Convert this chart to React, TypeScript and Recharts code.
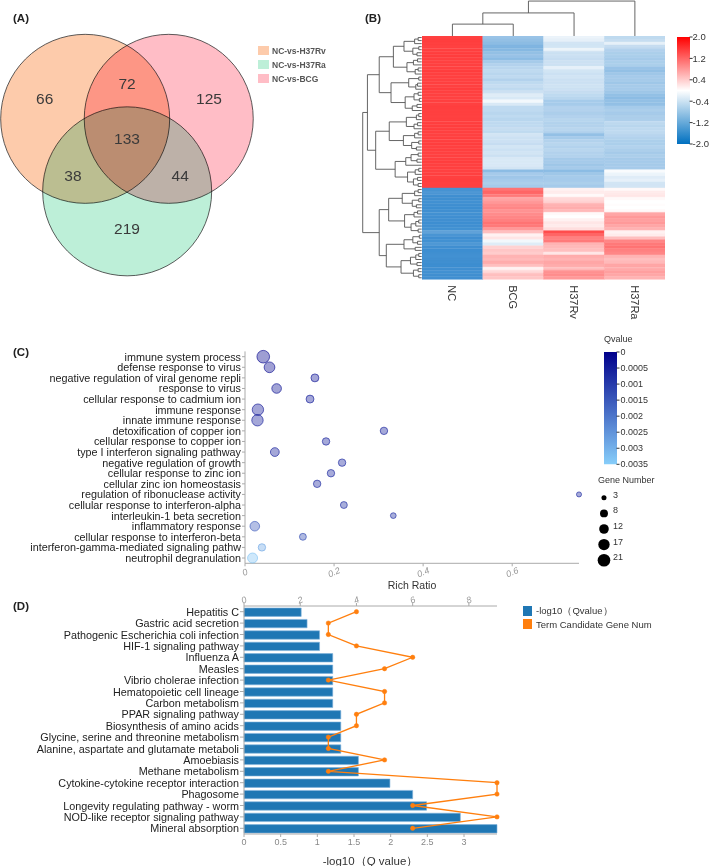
import React from "react";
import {
  Bar,
  BarChart,
  Cell,
  ComposedChart,
  Line,
  Scatter,
  ScatterChart,
  XAxis,
  YAxis,
  ZAxis
} from "recharts";

const FONT = '"Liberation Sans", Arial, Helvetica, sans-serif';

// ---------- (A) Venn ----------
const vennSets = ["NC-vs-H37Rv", "NC-vs-H37Ra", "NC-vs-BCG"];
const vennColors = ["#fdcbab", "#bdefd8", "#ffbdc6"];
const vennCx = [-0.495, 0.002, 0.494];
const vennCy = [0.286, -0.572, 0.286];
const vennCounts = [66, 72, 125, 133, 38, 44, 219];
const vennLabelX = [-0.974, 0, 0.97, 0, -0.64, 0.63, 0];
const vennLabelY = [0.525, 0.7, 0.525, 0.05, -0.39, -0.39, -1.01];

// ---------- (B) heatmap ----------
const heatColumns = ["NC", "BCG", "H37Rv", "H37Ra"];
const ncValues = [
  1.5, 1.51, 1.5, 1.49, 1.5, 1.5, 1.52, 1.5, 1.49, 1.5,
  1.5, 1.51, 1.5, 1.5, 1.49, 1.5, 1.5, 1.51, 1.5, 1.5,
  1.49, 1.5, 1.5, 1.51, 1.5, 1.5, 1.49, 1.5, 1.5, 1.51,
  1.5, 1.5, 1.49, 1.5, 1.5, 1.51, 1.5, 1.5, 1.49, 1.5,
  1.5, 1.51, 1.5, 1.5, 1.49, 1.5, 1.5, 1.51, 1.5, 1.5,
  -1.45, -1.38, -1.5, -1.5, -1.48, -1.5, -1.52, -1.5, -1.48, -1.5,
  -1.5, -1.52, -1.5, -1.48, -1.25, -1.42, -1.5, -1.48, -1.38, -1.5,
  -1.52, -1.5, -1.48, -1.5, -1.5, -1.52, -1.5, -1.48, -1.5, -1.5
];
const bcgValues = [
  -0.8, -0.85, -0.9, -1.0, -0.95, -0.85, -0.8, -0.9, -0.7, -0.6,
  -0.55, -0.5, -0.55, -0.5, -0.6, -0.5, -0.45, -0.5, -0.4, -0.25,
  -0.3, -0.1, -0.3, -0.5, -0.5, -0.55, -0.5, -0.55, -0.5, -0.5,
  -0.45, -0.5, -0.35, -0.4, -0.4, -0.45, -0.35, -0.4, -0.35, -0.4,
  -0.3, -0.3, -0.3, -0.35, -0.9, -0.7, -0.75, -0.7, -0.65, -0.7,
  1.1, 1.2, 1.05, 0.7, 0.8, 0.9, 0.95, 0.85, 0.9, 0.95,
  1.0, 1.1, 1.05, 0.8, 0.5, 0.1, 0.2, -0.1, -0.25, 0.35,
  0.45, 0.4, 0.6, 0.55, 0.65, 0.5, 0.1, 0.3, 0.5, 0.45
];
const h37rvValues = [
  -0.15, -0.2, -0.35, -0.35, -0.15, -0.4, -0.4, -0.45, -0.4, -0.4,
  -0.2, -0.35, -0.4, -0.35, -0.4, -0.4, -0.38, -0.4, -0.45, -0.5,
  -0.55, -0.7, -0.7, -0.6, -0.6, -0.65, -0.6, -0.55, -0.6, -0.6,
  -0.55, -0.6, -0.85, -0.7, -0.6, -0.55, -0.6, -0.55, -0.6, -0.6,
  -0.7, -0.7, -0.75, -0.7, -0.9, -0.75, -0.7, -0.7, -0.65, -0.7,
  0.1, 0.15, 0.05, 0.3, 0.35, 0.6, 0.65, 0.55, 0.05, 0.0,
  0.1, 0.2, 0.15, 0.25, 1.4, 1.2, 1.0, 1.05, 0.6, 0.55,
  0.5, 0.2, 0.65, 0.6, 0.7, 0.65, 0.5, 0.85, 0.9, 0.8
];
const h37raValues = [
  -0.5, -0.45, -0.2, -0.45, -0.6, -0.65, -0.65, -0.7, -0.65, -0.65,
  -0.8, -0.85, -0.75, -0.7, -0.7, -0.75, -0.7, -0.7, -0.75, -0.85,
  -0.9, -0.85, -0.85, -0.7, -0.65, -0.7, -0.65, -0.65, -0.5, -0.55,
  -0.5, -0.5, -0.55, -0.6, -0.65, -0.65, -0.6, -0.65, -0.7, -0.65,
  -0.7, -0.7, -0.7, -0.7, -0.05, -0.15, -0.25, -0.2, -0.35, -0.35,
  0.05, 0.15, 0.2, 0.05, 0.0, 0.02, 0.0, 0.05, 0.7, 0.8,
  0.75, 0.8, 0.7, 0.6, 0.1, 0.15, 0.5, 0.95, 1.05, 1.1,
  1.0, 0.95, 0.6, 0.5, 0.55, 0.7, 0.65, 0.75, 0.7, 0.6
];
const heatScaleTicks = [2, 1.2, 0.4, -0.4, -1.2, -2];

// dendrograms, newick-like: x = leaf, (a,b)h = merge at height h
const rowTreeA1 = "((((x,x)6,x)12,((x,x)5,(x,x)8)15)30,(((x,x)7,x)14,((x,x)6,x)11)25)48";
const rowTreeA2 = "(((x,x)5,((x,x)7,x)10)22,(((x,x)6,(x,x)4)13,((x,x)8,x)16)28)52";
const rowTreeA3 = "((((x,x)5,x)9,((x,x)7,x)13)26,(((x,x)6,x)12,((x,x)5,(x,x)9)17)31)55";
const rowTreeA4 = "((((x,x)6,(x,x)8)18,x)27,(((x,x)5,x)11,((x,x)7,(x,x)6)14)24)45";
const rowTreeB1 = "((((x,x)6,x)12,((x,x)5,(x,x)9)16)33,(((x,x)7,x)13,(((x,x)5,x)10,(x,x)6)18)29)56";
const rowTreeB2 = "((((x,x)4,(x,x)7)15,(x,x)11)30,((((x,x)5,x)10,(x,x)8)19,((x,x)6,(x,x)5)14)35)60";
const rowTree = `(((${rowTreeA1},${rowTreeA2})72,(${rowTreeA3},${rowTreeA4})78)92,(${rowTreeB1},${rowTreeB2})72)100`;
const colTree = "(((x,x)34,x)66,x)100";

// ---------- (C) GO bubble ----------
const goTerms = [
  "immune system process",
  "defense response to virus",
  "negative regulation of viral genome repli",
  "response to virus",
  "cellular response to cadmium ion",
  "immune response",
  "innate immune response",
  "detoxification of copper ion",
  "cellular response to copper ion",
  "type I interferon signaling pathway",
  "negative regulation of growth",
  "cellular response to zinc ion",
  "cellular zinc ion homeostasis",
  "regulation of ribonuclease activity",
  "cellular response to interferon-alpha",
  "interleukin-1 beta secretion",
  "inflammatory response",
  "cellular response to interferon-beta",
  "interferon-gamma-mediated signaling pathw",
  "neutrophil degranulation"
];
const richRatio = [0.041, 0.055, 0.157, 0.071, 0.146, 0.029, 0.028, 0.312, 0.182, 0.067, 0.218, 0.193, 0.162, 0.75, 0.222, 0.333, 0.022, 0.13, 0.038, 0.017];
const geneNumber = [21, 15, 8, 12, 8, 17, 17, 7, 7, 10, 7, 7, 7, 3, 6, 4, 12, 6, 7, 13];
const qValue = [0.00002, 0.0001, 0.0003, 0.0002, 0.0004, 0.0003, 0.0004, 0.0005, 0.0005, 0.0004, 0.0006, 0.0006, 0.0006, 0.0006, 0.0007, 0.0007, 0.0015, 0.0012, 0.0028, 0.0033];
const richTicks = [0, 0.2, 0.4, 0.6];
const qTicks = [0, 0.0005, 0.001, 0.0015, 0.002, 0.0025, 0.003, 0.0035];
const geneLegend = [3, 8, 12, 17, 21];

// ---------- (D) KEGG bars ----------
const pathways = [
  "Hepatitis C",
  "Gastric acid secretion",
  "Pathogenic Escherichia coli infection",
  "HIF-1 signaling pathway",
  "Influenza A",
  "Measles",
  "Vibrio cholerae infection",
  "Hematopoietic cell lineage",
  "Carbon metabolism",
  "PPAR signaling pathway",
  "Biosynthesis of amino acids",
  "Glycine, serine and threonine metabolism",
  "Alanine, aspartate and glutamate metaboli",
  "Amoebiasis",
  "Methane metabolism",
  "Cytokine-cytokine receptor interaction",
  "Phagosome",
  "Longevity regulating pathway - worm",
  "NOD-like receptor signaling pathway",
  "Mineral absorption"
];
const negLogQ = [0.78, 0.86, 1.03, 1.03, 1.21, 1.21, 1.21, 1.21, 1.21, 1.32, 1.32, 1.32, 1.32, 1.56, 1.56, 1.99, 2.3, 2.49, 2.95, 3.45];
const candidateGenes = [4, 3, 3, 4, 6, 5, 3, 5, 5, 4, 4, 3, 3, 5, 3, 9, 9, 6, 9, 6];
const qAxisTicks = [0, 0.5, 1, 1.5, 2, 2.5, 3];
const geneAxisTicks = [0, 2, 4, 6, 8];

// ---------- helpers ----------
type DNode = { h: number; pos: number; kids: DNode[] };

function parseTree(src: string): DNode {
  let i = 0;
  let leaf = 0;
  const read = (depth: number): DNode => {
    if (src[i] === "x" || i >= src.length || depth > 60) {
      i++;
      return { h: 0, pos: leaf++ + 0.5, kids: [] };
    }
    i++; // (
    const a = read(depth + 1);
    i++; // ,
    const b = read(depth + 1);
    i++; // )
    let num = "";
    while (i < src.length && /[0-9]/.test(src[i])) num += src[i++];
    return { h: Number(num), pos: (a.pos + b.pos) / 2, kids: [a, b] };
  };
  return read(0);
}

function elbows(n: DNode, out: { h: number; pos: number }[][] = []) {
  if (!n.kids.length) return out;
  const [a, b] = n.kids;
  out.push([
    { h: a.h, pos: a.pos },
    { h: n.h, pos: a.pos },
    { h: n.h, pos: b.pos },
    { h: b.h, pos: b.pos }
  ]);
  elbows(a, out);
  elbows(b, out);
  return out;
}

function heatColor(v: number) {
  const t = Math.min(Math.abs(v) / 2, 1);
  if (v >= 0) {
    const g = Math.round(255 * (1 - t));
    return `rgb(255,${g},${g})`;
  }
  return `rgb(${Math.round(255 - t * 255)},${Math.round(255 - t * 149)},${Math.round(255 - t * 61)})`;
}

function qColor(q: number) {
  const t = Math.min(q / 0.0035, 1);
  const r = Math.round(0 + t * 135);
  const g = Math.round(0 + t * 206);
  const b = Math.round(139 + t * (250 - 139));
  return `rgb(${r},${g},${b})`;
}

const PanelLabel = ({ text, left, top }: { text: string; left: number; top: number }) => (
  <div style={{ position: "absolute", left, top, fontSize: 11.5, fontWeight: "bold", color: "#222", lineHeight: "13px" }}>
    {text}
  </div>
);

const Abs = ({ left, top, children }: { left: number; top: number; children: React.ReactNode }) => (
  <div style={{ position: "absolute", left, top }}>{children}</div>
);

const EmptyShape = () => <g />;

// single-line category label to the left of an axis
const LeftLabelTick = (p: any) => (
  <text x={p.x} y={p.y} textAnchor="end" dominantBaseline="central" fontSize={10.8} fill="#222" fontFamily={FONT}>
    {p.labels ? p.labels[p.payload.value] : p.payload.value}
  </text>
);

// ---------- panels ----------
const VENN_SIZE = 300;
const VENN_PX = 84.5;
const VENN_EXTENT = VENN_SIZE / (2 * VENN_PX);

const VennCircle = (p: any) => (
  <circle
    cx={p.cx}
    cy={p.cy}
    r={VENN_SIZE / (2 * VENN_EXTENT)}
    fill={p.payload.color}
    stroke="#333"
    strokeWidth={0.8}
    style={{ mixBlendMode: "multiply" }}
  />
);

const VennLabel = (p: any) => (
  <text x={p.cx} y={p.cy} textAnchor="middle" dominantBaseline="central" fontSize={15.5} fill="#3a3a3a" fontFamily={FONT}>
    {p.payload.n}
  </text>
);

function VennPanel() {
  const circles = vennSets.map((name, i) => ({ name, x: vennCx[i], y: vennCy[i], color: vennColors[i] }));
  const labels = vennCounts.map((n, i) => ({ n, x: vennLabelX[i], y: vennLabelY[i] }));
  return (
    <>
      <Abs left={127.3 - VENN_SIZE / 2} top={142.7 - VENN_SIZE / 2}>
        <ScatterChart width={VENN_SIZE} height={VENN_SIZE} margin={{ top: 0, right: 0, bottom: 0, left: 0 }}>
          <XAxis type="number" dataKey="x" domain={[-VENN_EXTENT, VENN_EXTENT]} hide />
          <YAxis type="number" dataKey="y" domain={[-VENN_EXTENT, VENN_EXTENT]} hide />
          <Scatter data={circles} isAnimationActive={false} shape={VennCircle} />
          <Scatter data={labels} isAnimationActive={false} shape={VennLabel} />
        </ScatterChart>
      </Abs>
      {vennSets.map((name, i) => (
        <div key={name} style={{ position: "absolute", left: 258, top: 45.5 + i * 14, display: "flex", alignItems: "center", height: 10 }}>
          <div style={{ width: 11, height: 9, background: vennColors[i], marginRight: 3 }} />
          <span style={{ fontSize: 8.5, fontWeight: "bold", color: "#555" }}>{name}</span>
        </div>
      ))}
    </>
  );
}

const HEAT_LEFT = 421.7;
const HEAT_TOP = 36;
const HEAT_W = 243.3;
const HEAT_H = 243.3;

const HeatLabelTick = (p: any) => {
  const y = p.y + 4;
  return (
    <text x={p.x} y={y} transform={`rotate(90 ${p.x} ${y})`} textAnchor="start" dominantBaseline="central" fontSize={11} fill="#333" fontFamily={FONT}>
      {heatColumns[Math.floor(p.payload.value)]}
    </text>
  );
};

const dendroLine = { stroke: "#555", strokeWidth: 0.9 };
const rowSegs = elbows(parseTree(rowTree));
const colSegs = elbows(parseTree(colTree));

function HeatmapPanel() {
  const rows = ncValues.map((_, i) => ({ row: i, NC: 1, BCG: 1, H37Rv: 1, H37Ra: 1 }));
  const columnValues = [ncValues, bcgValues, h37rvValues, h37raValues];
  return (
    <>
      {/* row dendrogram */}
      <Abs left={360} top={HEAT_TOP}>
        <ScatterChart width={HEAT_LEFT - 360} height={HEAT_H} margin={{ top: 0, right: 0, bottom: 0, left: 0 }}>
          <XAxis type="number" dataKey="h" domain={[0, 104.6]} reversed hide />
          <YAxis type="number" dataKey="pos" domain={[0, ncValues.length]} reversed hide />
          {rowSegs.map((seg, i) => (
            <Scatter key={i} data={seg} line={dendroLine} lineType="joint" shape={EmptyShape} isAnimationActive={false} />
          ))}
        </ScatterChart>
      </Abs>
      {/* column dendrogram */}
      <Abs left={HEAT_LEFT} top={0}>
        <ScatterChart width={HEAT_W} height={HEAT_TOP} margin={{ top: 0, right: 0, bottom: 0, left: 0 }}>
          <XAxis type="number" dataKey="pos" domain={[0, heatColumns.length]} hide />
          <YAxis type="number" dataKey="h" domain={[0, 103]} hide />
          {colSegs.map((seg, i) => (
            <Scatter key={i} data={seg} line={dendroLine} lineType="joint" shape={EmptyShape} isAnimationActive={false} />
          ))}
        </ScatterChart>
      </Abs>
      {/* heatmap cells */}
      <Abs left={HEAT_LEFT} top={HEAT_TOP}>
        <BarChart
          width={HEAT_W}
          height={HEAT_H + 45}
          data={rows}
          layout="vertical"
          barCategoryGap={0}
          barGap={0}
          margin={{ top: 0, right: 0, bottom: 0, left: 0 }}
        >
          <YAxis type="category" dataKey="row" hide />
          <XAxis
            type="number"
            domain={[0, 4]}
            ticks={[0.5, 1.5, 2.5, 3.5]}
            height={45}
            axisLine={false}
            tickLine={false}
            tickSize={0}
            interval={0}
            tick={HeatLabelTick}
          />
          {heatColumns.map((col, ci) => (
            <Bar key={col} dataKey={col} stackId="h" isAnimationActive={false}>
              {rows.map((r) => (
                <Cell key={r.row} fill={heatColor(columnValues[ci][r.row])} stroke={heatColor(columnValues[ci][r.row])} strokeWidth={0.5} />
              ))}
            </Bar>
          ))}
        </BarChart>
      </Abs>
      {/* color scale */}
      <Abs left={676.7} top={32}>
        <BarChart width={12.6 + 32} height={117} data={[{ k: "scale", v: [-2, 2] }]} barCategoryGap={0} margin={{ top: 5, right: 0, bottom: 5, left: 0 }}>
          <defs>
            <linearGradient id="heatGrad" x1="0" y1="0" x2="0" y2="1">
              <stop offset="0%" stopColor="#ff0000" />
              <stop offset="50%" stopColor="#ffffff" />
              <stop offset="100%" stopColor="#0070c0" />
            </linearGradient>
          </defs>
          <XAxis type="category" dataKey="k" hide />
          <YAxis
            orientation="right"
            type="number"
            domain={[-2, 2]}
            ticks={heatScaleTicks}
            interval={0}
            width={32}
            axisLine={false}
            tickSize={3}
            tickMargin={0}
            tickLine={{ stroke: "#333" }}
            tick={{ fontSize: 9.5, fill: "#333", fontFamily: FONT }}
            tickFormatter={(v: number) => v.toFixed(1)}
          />
          <Bar dataKey="v" fill="url(#heatGrad)" isAnimationActive={false} />
        </BarChart>
      </Abs>
    </>
  );
}

const SlantTick = (p: any) => {
  const y = p.y + (p.orientation === "top" ? -1 : 4);
  return (
    <text
      x={p.x}
      y={y}
      transform={`rotate(-22 ${p.x} ${y})`}
      textAnchor="middle"
      dominantBaseline="central"
      fontSize={9}
      fill="#999"
      fontStyle="italic"
      fontFamily={FONT}
    >
      {p.payload.value}
    </text>
  );
};

const BUBBLE_RANGE: [number, number] = [20, 125];

const Bubble = (p: any) => {
  const c = qColor(p.payload.q);
  return <circle cx={p.cx} cy={p.cy} r={p.width / 2} fill={c} fillOpacity={0.38} stroke={c} strokeOpacity={0.7} strokeWidth={0.9} />;
};

const LegendBubble = (p: any) => (
  <g>
    <circle cx={p.cx} cy={p.cy} r={p.width / 2} fill="#000" />
    <text x={p.cx + 9} y={p.cy - 3} fontSize={9} fill="#333" fontFamily={FONT} dominantBaseline="central">
      {p.payload.n}
    </text>
  </g>
);

function BubblePanel() {
  const data = goTerms.map((t, i) => ({ y: i, x: richRatio[i], n: geneNumber[i], q: qValue[i] }));
  const legend = geneLegend.map((n, i) => ({ x: 0.233, y: i, n }));
  return (
    <>
      <Abs left={0} top={340}>
        <ScatterChart width={590} height={250} margin={{ top: 11.4, right: 11, bottom: 0, left: 0 }}>
          <XAxis
            type="number"
            dataKey="x"
            domain={[0, 0.75]}
            ticks={richTicks}
            interval={0}
            height={26.7}
            axisLine={{ stroke: "#aaa" }}
            tickLine={{ stroke: "#aaa" }}
            tickSize={3}
            tick={SlantTick}
            label={{ value: "Rich Ratio", position: "insideBottom", offset: 1, fontSize: 10.5, fill: "#333", fontFamily: FONT }}
          />
          <YAxis
            type="number"
            dataKey="y"
            domain={[-0.5, goTerms.length - 0.5]}
            reversed
            ticks={goTerms.map((_, i) => i)}
            interval={0}
            width={245}
            axisLine={{ stroke: "#aaa" }}
            tickLine={{ stroke: "#aaa" }}
            tickSize={3}
            tickMargin={1}
            tick={<LeftLabelTick labels={goTerms} />}
          />
          <ZAxis type="number" dataKey="n" domain={[3, 21]} range={BUBBLE_RANGE} />
          <Scatter data={data} isAnimationActive={false} shape={Bubble} />
        </ScatterChart>
      </Abs>
      <div style={{ position: "absolute", left: 604, top: 334, fontSize: 9, color: "#333", lineHeight: "11px" }}>Qvalue</div>
      <Abs left={604} top={346.7}>
        <BarChart width={12.5 + 45} height={122.3} data={[{ k: "q", v: [0, 0.0035] }]} barCategoryGap={0} margin={{ top: 5, right: 0, bottom: 5, left: 0 }}>
          <defs>
            <linearGradient id="qGrad" x1="0" y1="0" x2="0" y2="1">
              <stop offset="0%" stopColor="#00008b" />
              <stop offset="100%" stopColor="#87cefa" />
            </linearGradient>
          </defs>
          <XAxis type="category" dataKey="k" hide />
          <YAxis
            orientation="right"
            type="number"
            reversed
            domain={[0, 0.0035]}
            ticks={qTicks}
            interval={0}
            width={45}
            axisLine={false}
            tickSize={3}
            tickMargin={1}
            tickLine={{ stroke: "#333" }}
            tick={{ fontSize: 9, fill: "#333", fontFamily: FONT }}
            tickFormatter={(v: number) => String(v)}
          />
          <Bar dataKey="v" fill="url(#qGrad)" isAnimationActive={false} />
        </BarChart>
      </Abs>
      <div style={{ position: "absolute", left: 598, top: 475, fontSize: 9, color: "#333", lineHeight: "11px" }}>Gene Number</div>
      <Abs left={590} top={490}>
        <ScatterChart width={60} height={78} margin={{ top: 0, right: 0, bottom: 0, left: 0 }}>
          <XAxis type="number" dataKey="x" domain={[0, 1]} hide />
          <YAxis type="number" dataKey="y" domain={[-0.5, geneLegend.length - 0.5]} reversed hide />
          <ZAxis type="number" dataKey="n" domain={[3, 21]} range={BUBBLE_RANGE} />
          <Scatter data={legend} isAnimationActive={false} shape={LegendBubble} />
        </ScatterChart>
      </Abs>
    </>
  );
}

function KeggPanel() {
  const data = pathways.map((name, i) => ({ name, q: negLogQ[i], genes: candidateGenes[i] }));
  return (
    <>
      <Abs left={0} top={590}>
        <ComposedChart width={500} height={276} data={data} layout="vertical" margin={{ top: 0, right: 3, bottom: 0, left: 0 }}>
          <XAxis
            xAxisId="line"
            orientation="top"
            type="number"
            domain={[0, 9]}
            ticks={geneAxisTicks}
            interval={0}
            height={16}
            axisLine={{ stroke: "#aaa" }}
            tickLine={{ stroke: "#aaa" }}
            tickSize={3}
            tick={SlantTick}
          />
          <XAxis
            xAxisId="bar"
            orientation="bottom"
            type="number"
            domain={[0, 3.45]}
            ticks={qAxisTicks}
            interval={0}
            height={32}
            axisLine={{ stroke: "#aaa" }}
            tickLine={{ stroke: "#aaa" }}
            tickSize={3}
            tick={{ fontSize: 9, fill: "#888", fontFamily: FONT }}
            label={{ value: "-log10（Q value）", position: "insideBottom", offset: 1, fontSize: 11.5, fill: "#333", fontFamily: FONT }}
          />
          <YAxis
            type="category"
            dataKey="name"
            width={244}
            interval={0}
            axisLine={{ stroke: "#aaa" }}
            tickLine={{ stroke: "#aaa" }}
            tickSize={4}
            tickMargin={1}
            tick={<LeftLabelTick />}
          />
          <Bar xAxisId="bar" dataKey="q" fill="#1f77b4" barSize={8.4} stroke="#7fb2dc" strokeWidth={0.6} isAnimationActive={false} />
          <Line
            xAxisId="line"
            dataKey="genes"
            stroke="#ff7f0e"
            strokeWidth={1.3}
            dot={{ r: 2.2, fill: "#ff7f0e", stroke: "#ff7f0e", strokeWidth: 0.5 }}
            isAnimationActive={false}
          />
        </ComposedChart>
      </Abs>
      {["-log10（Qvalue）", "Term Candidate Gene Num"].map((t, i) => (
        <div key={t} style={{ position: "absolute", left: 523, top: 606 + i * 13, display: "flex", alignItems: "center", height: 10 }}>
          <div style={{ width: 9, height: 9.5, background: i === 0 ? "#1f77b4" : "#ff7f0e", marginRight: 4 }} />
          <span style={{ fontSize: 9.5, color: "#333", whiteSpace: "nowrap" }}>{t}</span>
        </div>
      ))}
    </>
  );
}

export default function App() {
  return (
    <div
      style={{
        position: "absolute",
        left: 0,
        top: 0,
        width: 709,
        height: 866,
        background: "#fff",
        overflow: "hidden",
        fontFamily: FONT
      }}
    >
      <VennPanel />
      <HeatmapPanel />
      <BubblePanel />
      <KeggPanel />
      <PanelLabel text="(A)" left={13} top={12} />
      <PanelLabel text="(B)" left={365} top={12} />
      <PanelLabel text="(C)" left={13} top={346} />
      <PanelLabel text="(D)" left={13} top={600} />
    </div>
  );
}
